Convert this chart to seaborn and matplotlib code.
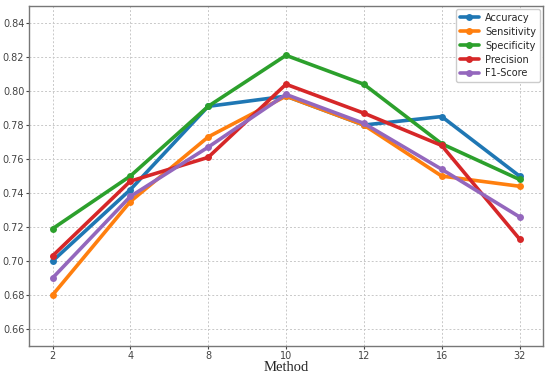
import pandas as pd
import matplotlib.pyplot as plt
import seaborn as sns

# x categories (kept as strings so they are evenly spaced)
methods = ['2', '4', '8', '10', '12', '16', '32']

accuracy = [0.700, 0.742, 0.791, 0.797, 0.780, 0.785, 0.750]
sensitivity = [0.680, 0.735, 0.773, 0.797, 0.780, 0.750, 0.744]
specificity = [0.719, 0.750, 0.791, 0.821, 0.804, 0.769, 0.748]
precision = [0.703, 0.747, 0.761, 0.804, 0.787, 0.768, 0.713]
f1_score = [0.690, 0.738, 0.767, 0.798, 0.781, 0.754, 0.726]

metric_names = ['Accuracy', 'Sensitivity', 'Specificity', 'Precision', 'F1-Score']
series = [accuracy, sensitivity, specificity, precision, f1_score]

rows = []
for name, vals in zip(metric_names, series):
    for m, v in zip(methods, vals):
        rows.append({'Method': m, 'value': v, 'metric': name})
df = pd.DataFrame(rows)

sns.set_style('ticks')
fig, ax = plt.subplots(figsize=(5.5, 3.77), dpi=100)
fig.subplots_adjust(left=0.053, right=0.987, top=0.984, bottom=0.082)

sns.lineplot(data=df, x='Method', y='value', hue='metric', palette='tab10',
             marker='o', markersize=5, markeredgewidth=0, linewidth=2.6,
             sort=False, ax=ax)

ax.set_ylim(0.65, 0.85)
ax.set_yticks([0.66, 0.68, 0.70, 0.72, 0.74, 0.76, 0.78, 0.80, 0.82, 0.84])
ax.set_yticklabels(['%.2f' % t for t in ax.get_yticks()])
ax.grid(True, linestyle=(0, (2, 2)), color='#c8c8c8', linewidth=0.7)
ax.tick_params(labelsize=7, colors='#444444', length=2, pad=1.5)
for s in ax.spines.values():
    s.set_color('#777777')
    s.set_linewidth(1.0)

ax.set_xlabel('Method', family='Liberation Serif', fontsize=10.5, labelpad=0)
ax.set_ylabel('')
ax.legend(title=None, loc='upper right', fontsize=7, handlelength=2.0,
          labelspacing=0.4, borderpad=0.4, borderaxespad=0.3,
          handletextpad=0.6, framealpha=1.0)

fig.savefig('out.png', dpi=100)
